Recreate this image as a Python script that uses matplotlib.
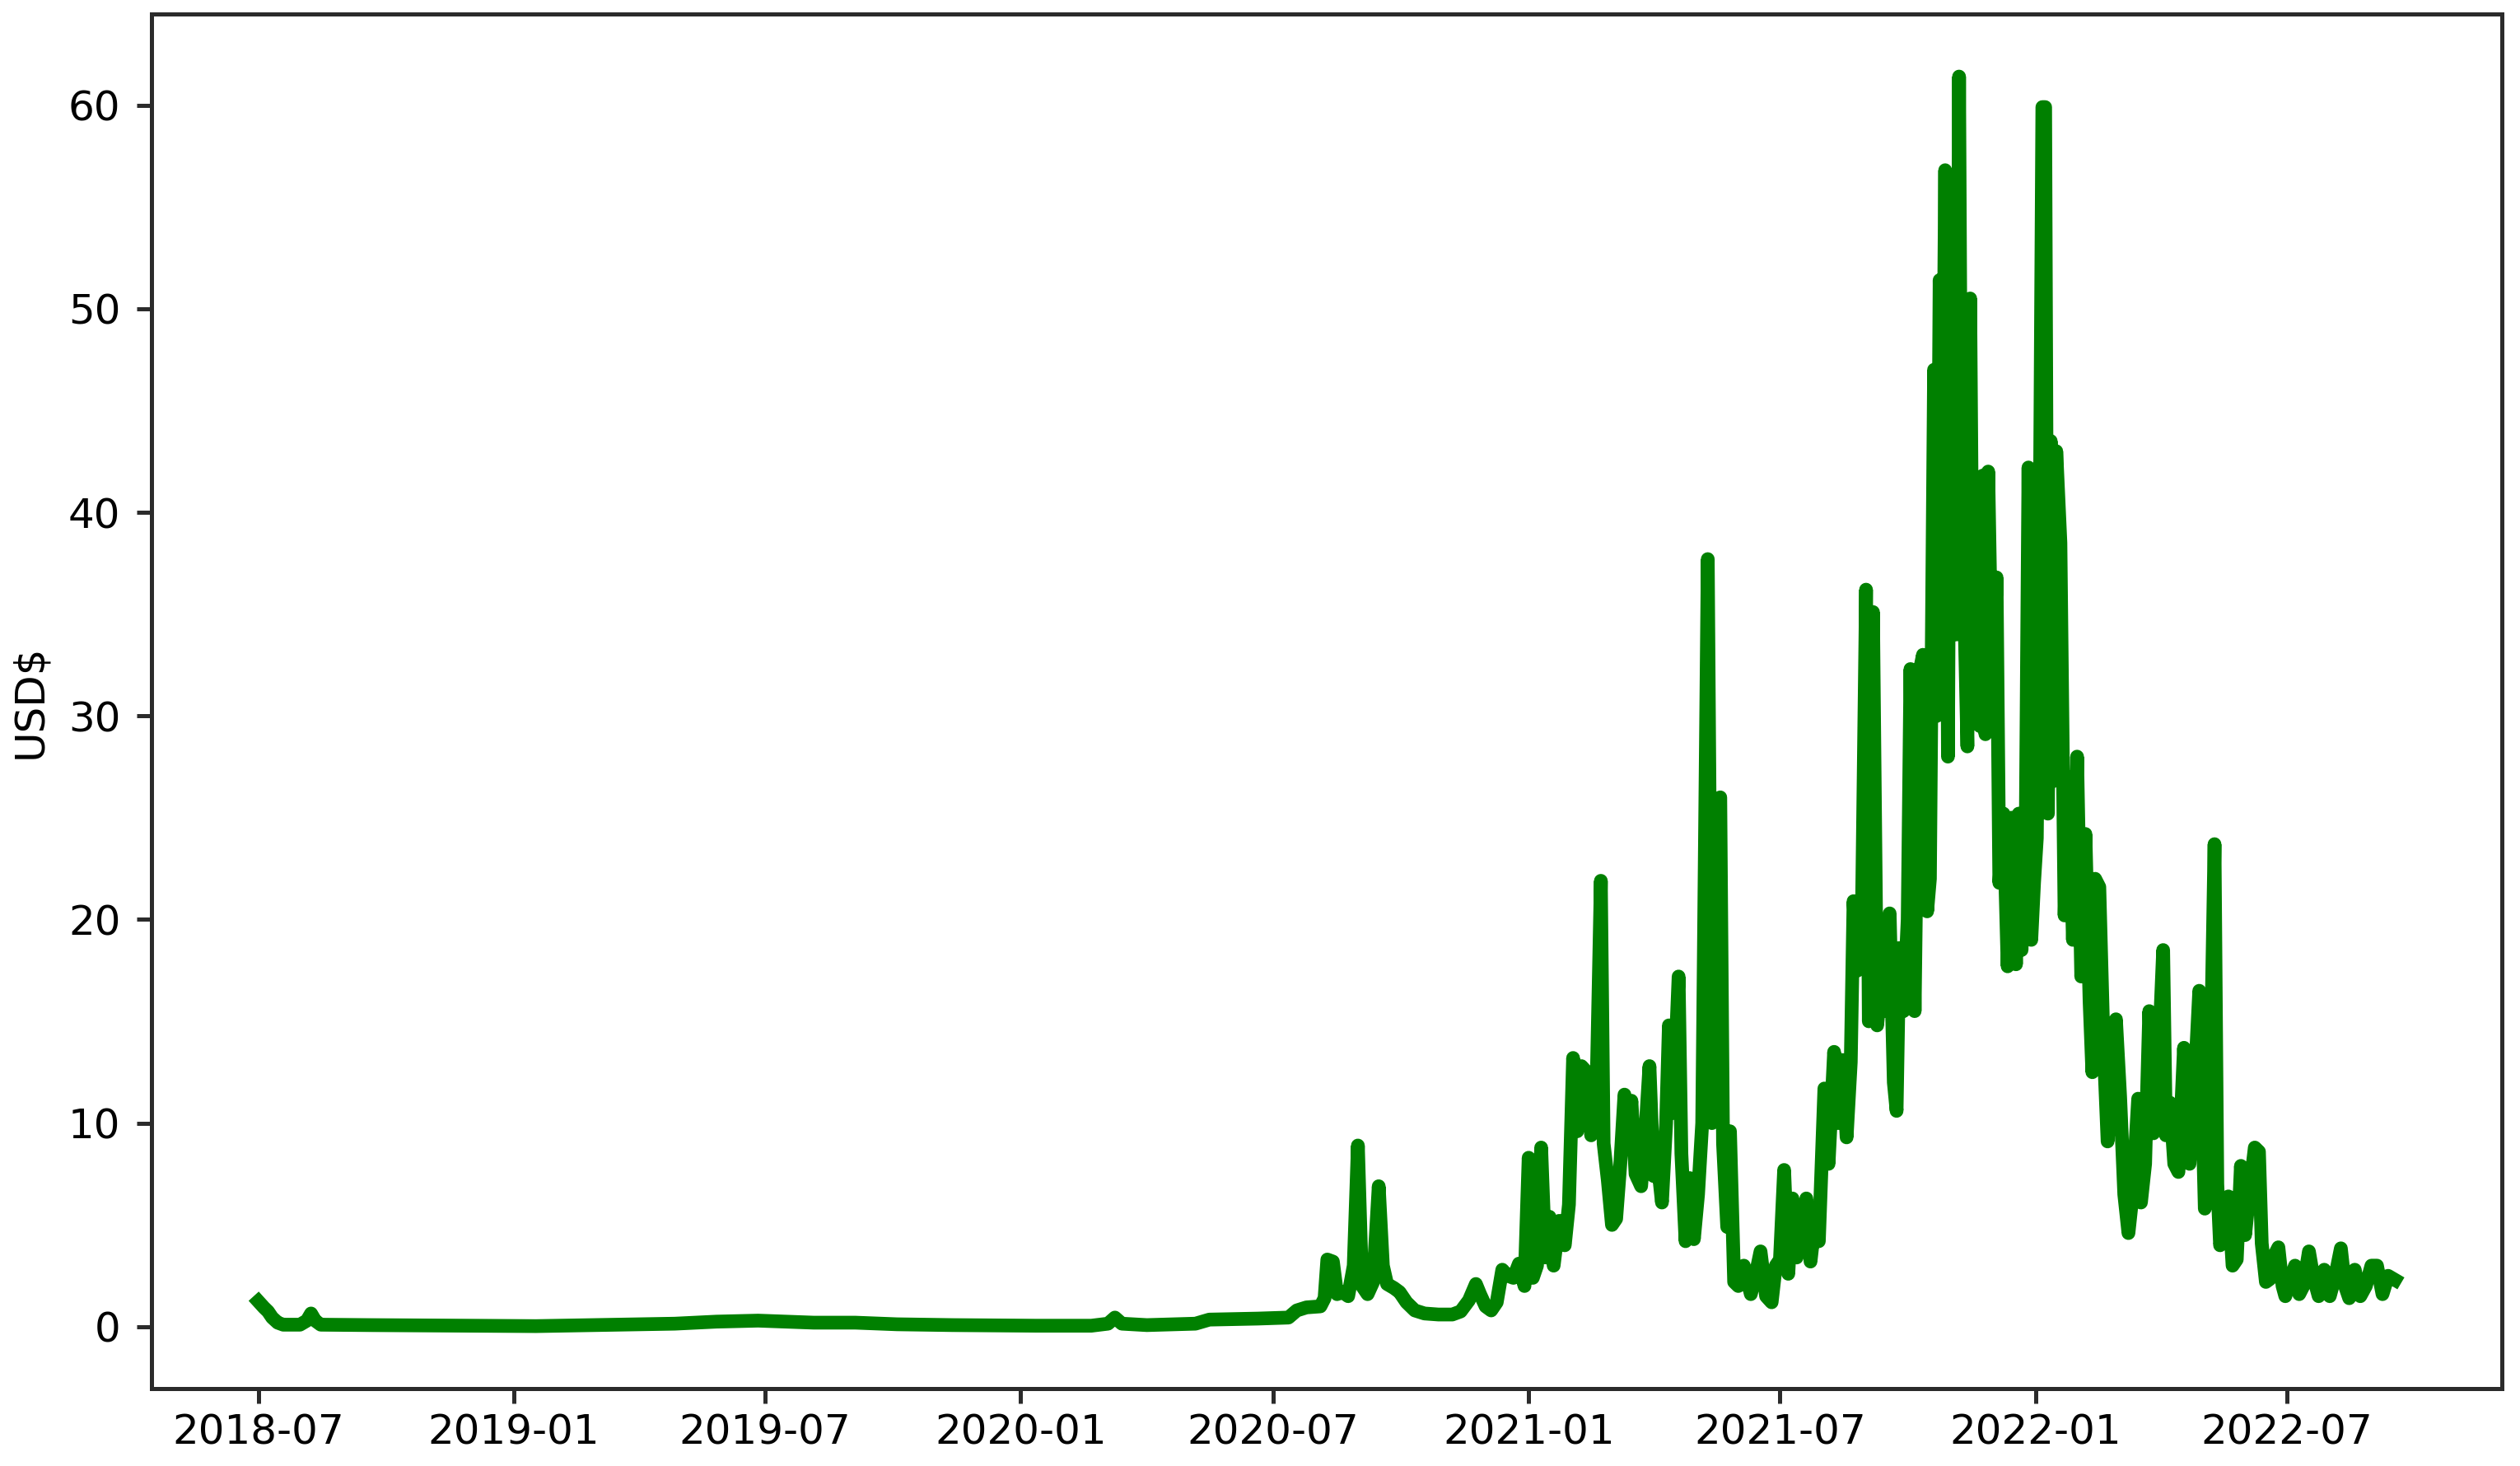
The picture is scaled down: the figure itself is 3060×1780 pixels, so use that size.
import matplotlib
matplotlib.use("Agg")
import matplotlib.pyplot as plt
import matplotlib.dates as mdates
import pandas as pd

# values, as (days since 2018-07-01, USD)
start_date = "2018-07-01"
day_offset = [
    0, 2, 4, 7, 10, 14, 18, 30, 35, 38, 41, 45, 80, 150, 200, 260, 300, 330, 360, 380,
    400, 430, 460, 500, 560, 600, 612, 617, 622, 640, 675, 685, 720, 742, 748, 755, 765, 768, 770, 774,
    777, 781, 785, 789, 792, 795, 799, 803, 807, 810, 813, 818, 822, 827, 833, 840, 850, 860, 866, 872,
    877, 880, 884, 888, 892, 896, 900, 904, 908, 912, 915, 918, 921, 924, 927, 930, 933, 937, 941, 944,
    947, 950, 953, 957, 960, 964, 967, 969, 972, 975, 978, 981, 984, 987, 989, 992, 996, 999, 1002, 1005,
    1008, 1011, 1014, 1016, 1019, 1023, 1025, 1028, 1031, 1034, 1037, 1040, 1044, 1047, 1050, 1053, 1055, 1058, 1060, 1063,
    1066, 1070, 1075, 1078, 1082, 1086, 1090, 1093, 1096, 1099, 1102, 1105, 1108, 1111, 1115, 1118, 1121, 1124, 1128, 1131,
    1135, 1138, 1141, 1144, 1147, 1149, 1152, 1155, 1158, 1160, 1163, 1166, 1169, 1172, 1175, 1178, 1180, 1182, 1185, 1188,
    1190, 1193, 1196, 1199, 1202, 1204, 1207, 1209, 1211, 1213, 1215, 1217, 1219, 1221, 1223, 1225, 1227, 1229, 1231, 1233,
    1235, 1237, 1240, 1242, 1244, 1246, 1249, 1252, 1254, 1257, 1260, 1263, 1266, 1268, 1270, 1273, 1275, 1277, 1279, 1281,
    1283, 1285, 1287, 1289, 1291, 1293, 1295, 1298, 1301, 1304, 1307, 1310, 1313, 1316, 1319, 1321, 1323, 1326, 1329, 1332,
    1335, 1338, 1341, 1344, 1347, 1350, 1354, 1356, 1359, 1362, 1365, 1368, 1372, 1374, 1377, 1380, 1383, 1387, 1391, 1394,
    1398, 1402, 1405, 1409, 1411, 1413, 1416, 1419, 1422, 1425, 1428, 1431, 1434, 1438, 1441, 1443, 1446, 1449, 1452, 1455,
    1458, 1460, 1463, 1467, 1470, 1473, 1477, 1480, 1484, 1488, 1492, 1496, 1500, 1503, 1506, 1510, 1514, 1518, 1522, 1526,
    1530, 1534, 1539,
]
price = [
    1.25, 1.1, 0.95, 0.75, 0.45, 0.2, 0.1, 0.1, 0.3, 0.65, 0.3, 0.1, 0.08, 0.05, 0.03, 0.1, 0.15, 0.25, 0.3, 0.25,
    0.2, 0.2, 0.12, 0.08, 0.05, 0.05, 0.15, 0.45, 0.15, 0.08, 0.15, 0.35, 0.4, 0.45, 0.8, 0.95, 1.0, 1.4, 3.3, 3.2,
    1.6, 1.7, 1.5, 3.0, 8.9, 2.0, 1.6, 2.2, 6.9, 3.0, 2.1, 1.9, 1.7, 1.2, 0.8, 0.65, 0.6, 0.6, 0.75, 1.3,
    2.1, 1.6, 1.0, 0.8, 1.2, 2.8, 2.5, 2.4, 3.1, 2.0, 8.3, 2.4, 3.0, 8.8, 3.4, 5.4, 3.0, 5.2, 4.0, 6.0,
    13.2, 9.6, 12.8, 12.5, 9.4, 12.0, 21.9, 9.0, 7.2, 5.0, 5.3, 8.0, 11.4, 9.5, 11.1, 7.5, 6.9, 9.5, 12.8, 7.4,
    8.0, 6.1, 10.0, 14.8, 10.5, 17.2, 8.5, 4.2, 7.3, 4.3, 6.5, 10.0, 37.7, 10.0, 25.5, 26.0, 9.0, 4.9, 9.6, 2.2,
    2.0, 3.0, 1.6, 2.4, 3.7, 1.5, 1.2, 3.0, 3.3, 7.7, 2.6, 6.3, 3.4, 4.2, 6.3, 3.2, 5.0, 4.2, 11.7, 8.0,
    13.5, 10.0, 13.1, 9.3, 13.0, 20.9, 17.5, 20.0, 36.2, 15.0, 35.1, 14.8, 17.0, 15.5, 20.3, 12.0, 10.6, 18.6, 15.5, 20.0,
    32.3, 15.5, 32.0, 33.0, 20.4, 22.0, 47.0, 30.0, 51.4, 40.0, 56.8, 28.0, 56.5, 40.0, 34.0, 61.4, 35.0, 34.6, 28.5, 50.5,
    32.3, 41.0, 29.5, 41.8, 29.1, 42.0, 30.0, 36.8, 21.8, 25.2, 17.7, 25.0, 17.8, 25.2, 18.5, 24.0, 42.2, 19.0, 21.8, 24.0,
    37.8, 59.9, 59.9, 25.2, 43.5, 26.8, 43.0, 38.5, 20.2, 27.0, 19.0, 28.0, 17.2, 24.2, 16.0, 12.5, 22.0, 21.6, 14.0, 9.1,
    12.0, 15.1, 11.3, 6.5, 4.6, 6.5, 11.2, 6.1, 8.0, 15.5, 9.5, 12.0, 18.5, 9.4, 11.0, 8.0, 7.6, 13.7, 8.0, 11.0,
    16.5, 5.8, 8.0, 23.7, 7.0, 4.0, 5.0, 6.4, 3.0, 3.3, 7.9, 4.5, 6.5, 8.8, 8.6, 4.1, 2.2, 2.35, 3.5, 3.9,
    2.0, 1.5, 2.2, 3.0, 1.6, 2.0, 3.7, 2.5, 1.5, 2.8, 1.5, 2.5, 3.85, 2.0, 1.4, 2.8, 1.5, 2.0, 3.0, 3.0,
    1.6, 2.5, 2.3,
]

dates = pd.Timestamp(start_date) + pd.to_timedelta(day_offset, unit="D")

fig = plt.figure(figsize=(15.3, 8.9), dpi=200)
ax = fig.add_axes([0.0601, 0.0528, 0.9327, 0.9376])

ax.plot(dates, price, color="green", linewidth=6)

ax.set_ylabel("USD$", fontsize=18, labelpad=8)
ax.xaxis.set_major_locator(mdates.MonthLocator(bymonth=[1, 7]))
ax.xaxis.set_major_formatter(mdates.DateFormatter("%Y-%m"))
ax.set_yticks([0, 10, 20, 30, 40, 50, 60])

ax.tick_params(axis="both", labelsize=18, length=6.5, width=1.8, color="#2b2b2b")
ax.tick_params(axis="x", pad=4)
ax.tick_params(axis="y", pad=7)
for sp in ax.spines.values():
    sp.set_linewidth(1.8)
    sp.set_color("#2b2b2b")

fig.savefig("out.png", dpi=200)
